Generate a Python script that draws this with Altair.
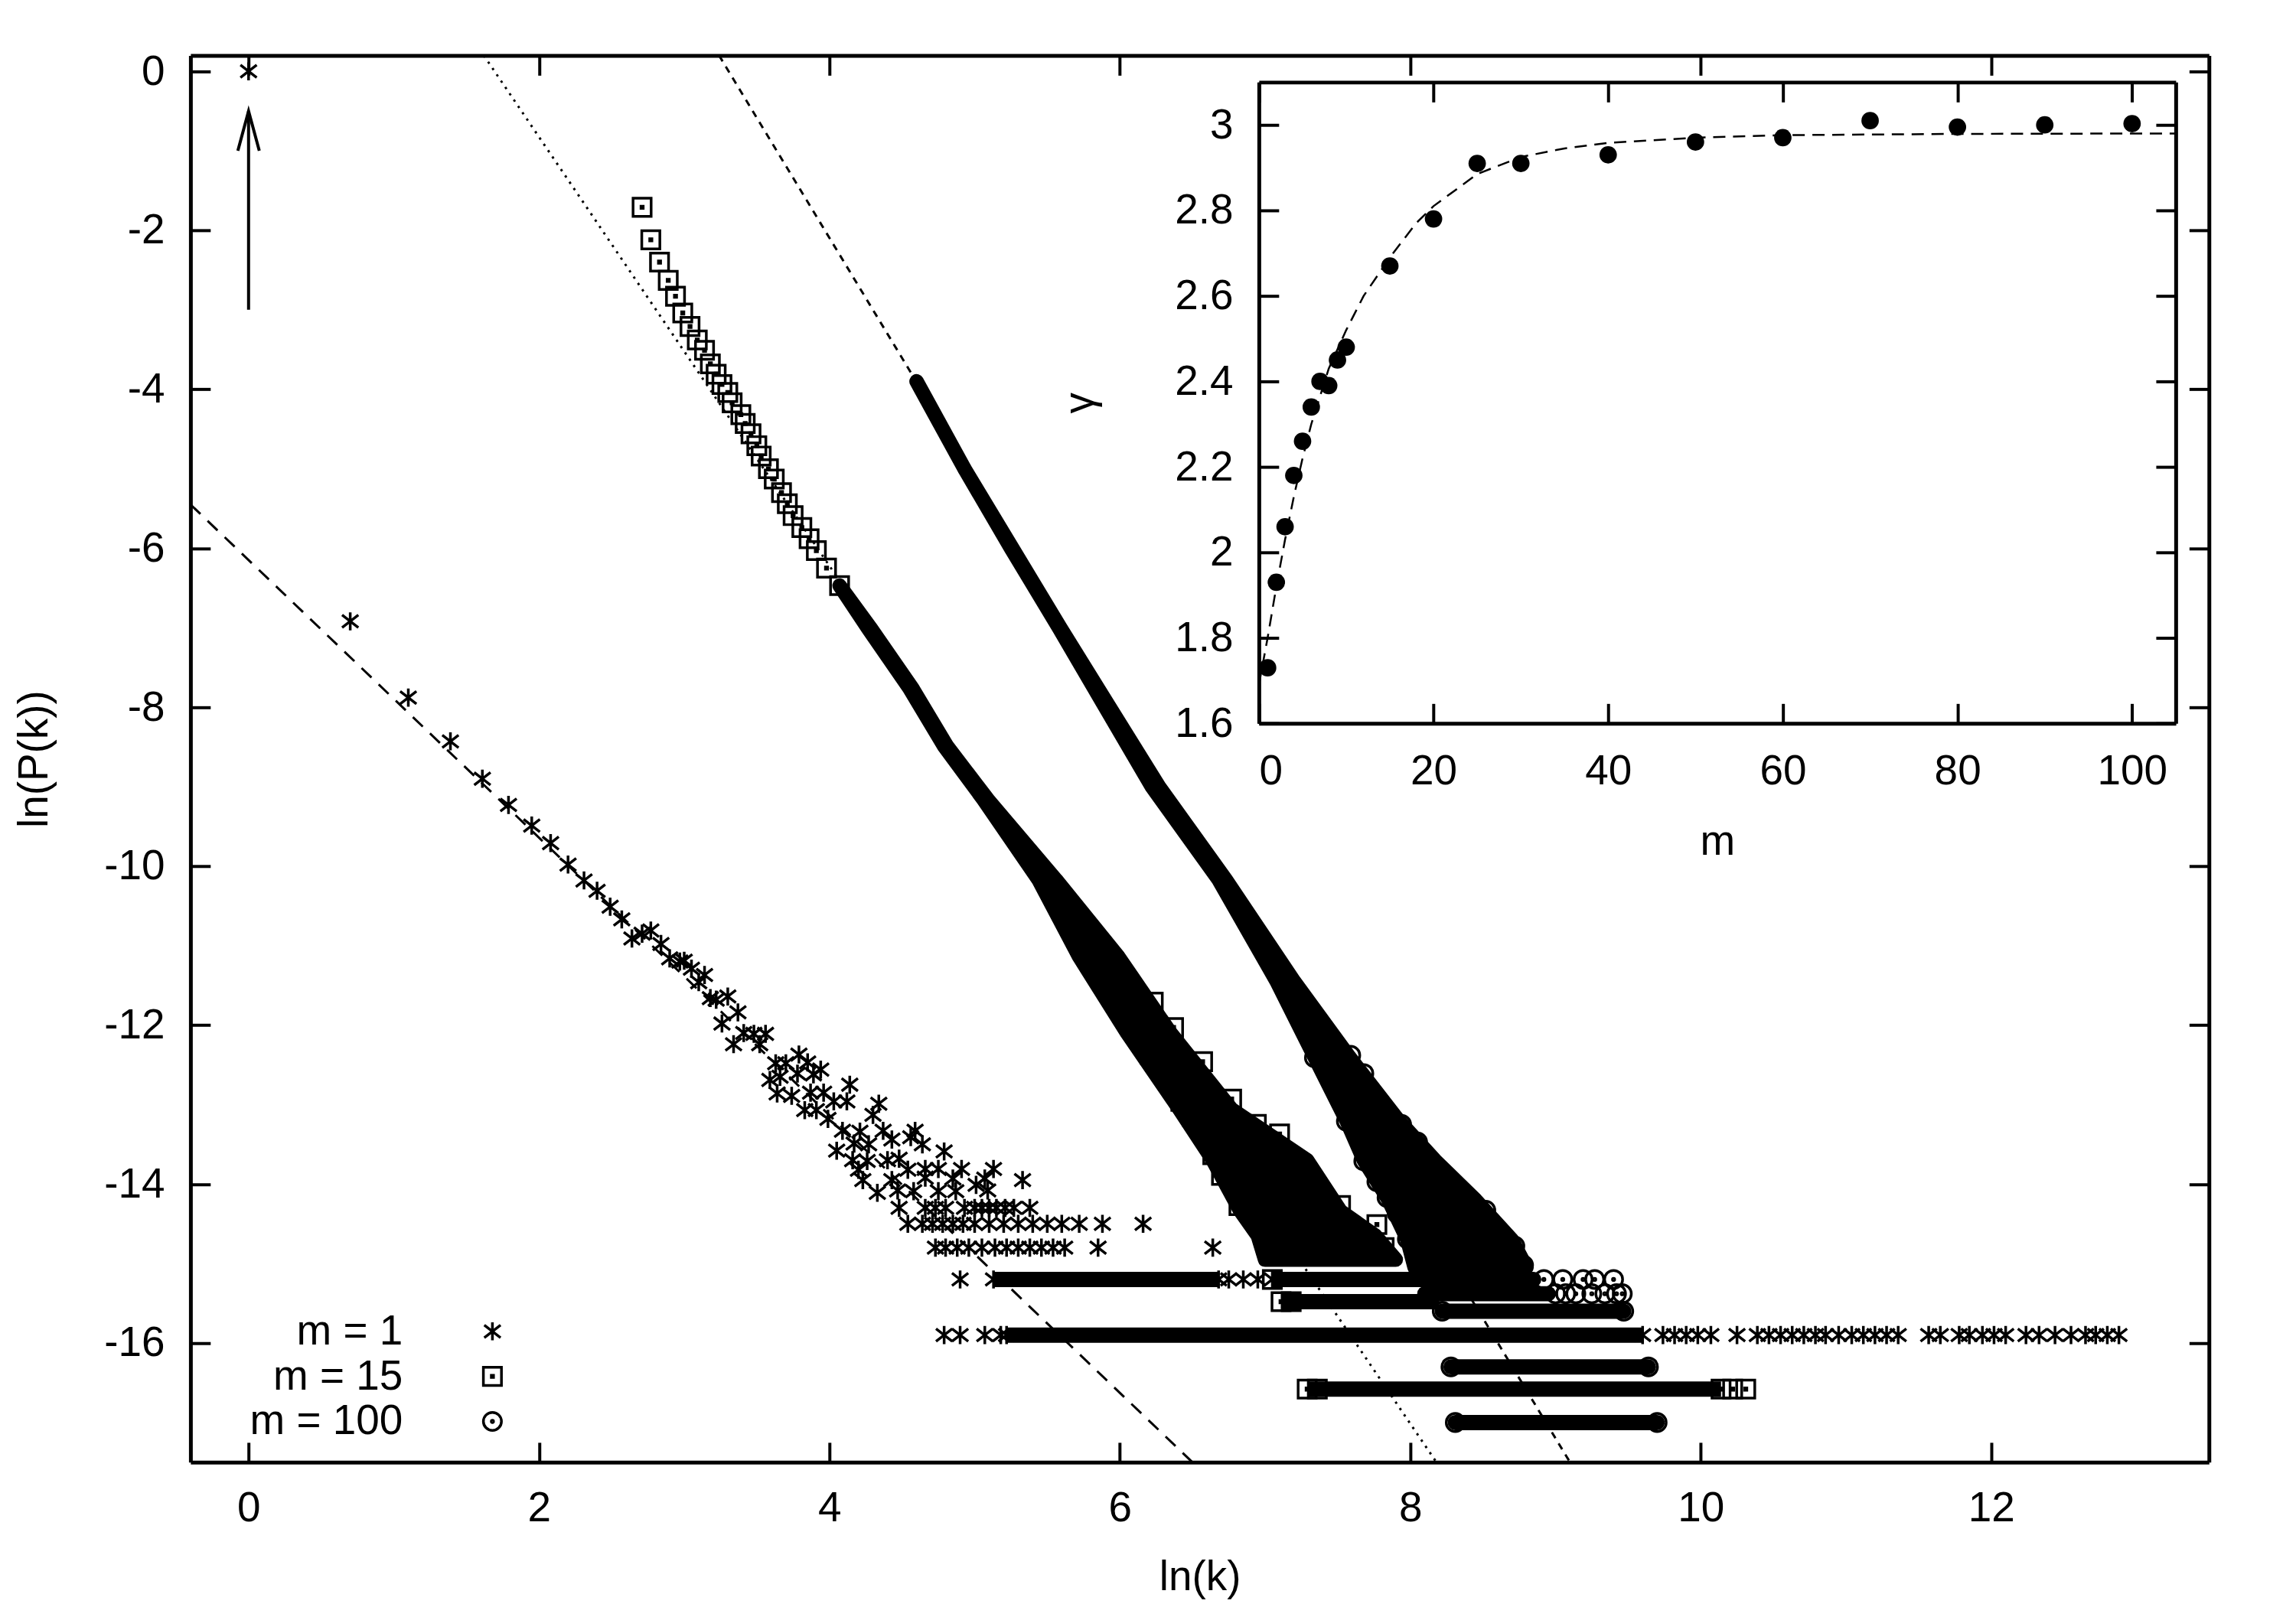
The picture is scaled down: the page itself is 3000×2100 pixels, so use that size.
import altair as alt
import pandas as pd

FONT = "Liberation Sans"
FS = 55

# ---------------- main panel : ln P(k) versus ln k ----------------
SERIES = ["m = 1", "m = 15", "m = 100"]

# m = 1 : scattered asterisks
m1_x = [0.00, 0.70, 1.10, 1.39, 1.61, 1.79, 1.95, 2.08, 2.20, 2.31, 2.40, 2.49, 2.57, 2.64,
        2.71, 2.77, 2.84, 2.90, 2.97, 3.00, 3.05, 3.10, 3.14, 3.18, 3.22, 3.30, 3.37, 3.26,
        3.41, 3.48, 3.56, 3.34, 3.52, 3.63, 3.70, 3.79, 3.85, 3.94, 3.59, 3.66, 3.78, 3.89,
        4.14, 3.64, 3.74, 3.87, 3.96, 4.03, 4.12, 3.83, 3.91, 3.99, 4.34, 4.30, 4.09, 4.21,
        4.37, 4.59, 4.05, 4.17, 4.27, 4.43, 4.56, 4.64, 4.79, 4.16, 4.26, 4.40, 4.48, 4.20,
        4.54, 4.66, 4.75, 4.91, 5.13, 4.23, 4.43, 4.66, 4.85, 5.07, 5.33, 4.33, 4.47, 4.58,
        4.75, 4.87, 5.01, 5.09]
m1_y = [0.00, -6.92, -7.88, -8.43, -8.90, -9.23, -9.49, -9.71, -9.98, -10.18, -10.31, -10.51,
        -10.67, -10.91, -10.85, -10.81, -10.98, -11.16, -11.20, -11.19, -11.29, -11.46, -11.37,
        -11.66, -11.68, -11.64, -11.84, -11.98, -12.10, -12.11, -12.11, -12.24, -12.24, -12.48,
        -12.48, -12.37, -12.47, -12.56, -12.69, -12.65, -12.61, -12.62, -12.75, -12.86, -12.89,
        -12.85, -12.85, -12.96, -12.96, -13.07, -13.07, -13.18, -12.99, -13.13, -13.33, -13.34,
        -13.33, -13.33, -13.58, -13.49, -13.50, -13.44, -13.41, -13.50, -13.59, -13.70, -13.71,
        -13.70, -13.68, -13.82, -13.82, -13.81, -13.81, -13.81, -13.81, -13.95, -13.95, -13.92,
        -13.93, -13.93, -13.95, -14.11, -14.08, -14.09, -14.09, -14.09, -14.01, -14.08]
# m = 1 : asterisks lying on the flat levels of ln P(k)
m1_level_y = [-14.3, -14.5, -14.8, -15.2, -15.9]
m1_level_x = [
    [4.48, 4.66, 4.73, 4.80, 4.93, 5.00, 5.05, 5.10, 5.15, 5.21, 5.27, 5.38],
    [4.54, 4.64, 4.71, 4.78, 4.85, 4.92, 5.00, 5.10, 5.20, 5.30, 5.40, 5.50, 5.60, 5.72,
     5.88, 6.16],
    [4.73, 4.80, 4.88, 4.96, 5.05, 5.14, 5.22, 5.30, 5.38, 5.46, 5.54, 5.62, 5.85, 6.64],
    [4.90, 5.13, 6.68, 6.75, 6.85, 6.95, 7.05],
    [4.79, 4.90, 5.07, 5.18, 5.22, 9.60, 9.74, 9.82, 9.90, 9.98, 10.07, 10.25, 10.39, 10.47,
     10.55, 10.63, 10.71, 10.79, 10.86, 10.95, 11.04, 11.12, 11.20, 11.28, 11.36, 11.57,
     11.65, 11.78, 11.85, 11.94, 12.02, 12.10, 12.24, 12.33, 12.44, 12.55, 12.65, 12.72,
     12.80, 12.88],
]

# m = 15 : squares (separate ones at small k, then stragglers in the tail)
m15_x = [2.71, 2.77, 2.83, 2.89, 2.94, 2.99, 3.04, 3.09, 3.14, 3.18, 3.22, 3.26, 3.30, 3.33,
         3.39, 3.42, 3.46, 3.50, 3.53, 3.58, 3.62, 3.67, 3.71, 3.75, 3.81, 3.86, 3.91, 3.98,
         4.07,
         6.13, 6.21, 6.42, 6.50, 6.64, 6.70, 6.82, 6.23, 6.37, 6.57, 6.77, 6.94, 7.10, 7.29,
         7.52, 7.77, 7.82, 7.60, 7.70,
         7.29, 7.36, 10.14, 10.22, 10.31, 7.11, 7.18, 7.05]
m15_y = [-1.71, -2.12, -2.40, -2.63, -2.83, -3.04, -3.21, -3.38, -3.51, -3.68, -3.81, -3.94,
         -4.04, -4.17, -4.32, -4.43, -4.56, -4.71, -4.84, -5.00, -5.13, -5.30, -5.44, -5.59,
         -5.74, -5.88, -6.03, -6.25, -6.47,
         -12.15, -12.37, -12.96, -13.15, -13.63, -13.89, -14.27, -11.71, -12.03, -12.46,
         -12.93, -13.25, -13.37, -13.89, -14.27, -14.51, -14.80, -14.81, -14.81,
         -16.58, -16.58, -16.58, -16.58, -16.58, -15.48, -15.48, -15.20]

# m = 100 : circles
m100_x = [7.34, 7.56, 7.68, 7.77, 7.84, 7.91, 7.98, 7.59, 7.68, 7.94, 8.05, 8.17, 8.52, 8.72,
          8.63, 8.78,
          8.31, 9.70, 8.28, 9.64, 8.22, 9.47,
          9.00, 9.07, 9.14, 9.25, 9.34, 9.42, 9.46, 8.92, 9.05, 9.19, 9.27, 9.40]
m100_y = [-12.41, -13.21, -13.71, -13.97, -14.17, -14.37, -14.69, -12.38, -12.61, -13.25,
          -13.47, -13.79, -14.33, -14.78, -14.67, -15.02,
          -17.0, -17.0, -16.3, -16.3, -15.6, -15.6,
          -15.38, -15.38, -15.38, -15.38, -15.38, -15.38, -15.38, -15.2, -15.2, -15.2, -15.2,
          -15.2]

# flat levels where markers merge into solid runs (start, end)
m1_run_y = [-15.9, -15.2]
m1_run_x0 = [5.22, 5.13]
m1_run_x1 = [9.60, 6.68]
m15_run_y = [-16.58, -15.48, -15.2]
m15_run_x0 = [7.29, 7.11, 7.05]
m15_run_x1 = [10.14, 8.20, 8.15]
m100_run_y = [-17.0, -16.3, -15.6, -15.38, -15.2]
m100_run_x0 = [8.31, 8.28, 8.22, 8.10, 8.10]
m100_run_x1 = [9.70, 9.64, 9.47, 8.95, 8.85]

# dense diagonal bands of merged markers: left / right marker centres per level
m15_band_y = [-14.95, -14.65, -14.34, -13.7, -13.06, -12.1, -11.14, -10.17, -9.16, -8.49,
              -7.76, -7.02, -6.47]
m15_band_l = [7.00, 6.95, 6.83, 6.64, 6.41, 6.05, 5.72, 5.44, 5.06, 4.79, 4.55, 4.27, 4.07]
m15_band_r = [7.90, 7.76, 7.52, 7.29, 6.77, 6.35, 5.99, 5.56, 5.09, 4.81, 4.57, 4.29, 4.07]
m100_band_y = [-15.05, -14.7, -14.2, -13.7, -13.2, -12.4, -11.45, -10.17, -9.0, -8.0, -7.0,
               -6.0, -5.0, -3.9]
m100_band_l = [8.03, 7.98, 7.85, 7.68, 7.56, 7.34, 7.08, 6.68, 6.22, 5.90, 5.58, 5.25, 4.93, 4.60]
m100_band_r = [8.80, 8.70, 8.45, 8.17, 7.92, 7.58, 7.20, 6.73, 6.27, 5.93, 5.59, 5.26, 4.93, 4.60]

# fitted power laws (straight lines on log-log axes)
fit1_x, fit1_y = [-0.4, 6.50], [-5.45, -17.5]
fit15_x, fit15_y = [1.62, 8.18], [0.2, -17.5]
fit100_x, fit100_y = [3.24, 9.10], [0.2, -17.5]

# arrow pointing at the k = 1 point
arrow_x, arrow_y = [0.0, 0.0], [-3.0, -0.5]

x_ticks = [0, 2, 4, 6, 8, 10, 12]
y_ticks = [0, -2, -4, -6, -8, -10, -12, -14, -16]

# ---------------- inset : gamma versus m ----------------
inset_m = [1, 2, 3, 4, 5, 6, 7, 8, 9, 10, 15, 20, 25, 30, 40, 50, 60, 70, 80, 90, 100]
inset_g = [1.73, 1.93, 2.06, 2.18, 2.26, 2.34, 2.40, 2.39, 2.45, 2.48, 2.67, 2.78, 2.91, 2.91,
           2.93, 2.96, 2.97, 3.01, 2.995, 3.00, 3.003]
curve_m = [0, 1, 2, 3, 4, 5, 6, 8, 10, 12, 15, 18, 20, 25, 30, 35, 40, 50, 60, 80, 105]
curve_g = [1.69, 1.80, 1.92, 2.03, 2.13, 2.22, 2.30, 2.43, 2.52, 2.60, 2.69, 2.77, 2.81, 2.885,
           2.925, 2.945, 2.958, 2.970, 2.976, 2.979, 2.980]
inset_x_ticks = [0, 20, 40, 60, 80, 100]
inset_y_ticks = [1.6, 1.8, 2.0, 2.2, 2.4, 2.6, 2.8, 3.0]

# ---------------- geometry ----------------
W, H = 2644, 1843
IN_L, IN_R, IN_T, IN_B = 1399.5, 2600.5, 35, 875

STAR = "M0,-1L0,1M-0.9,-0.7L0.9,0.7M-0.9,0.7L0.9,-0.7"
SQUARE = "M-1,-1L1,-1L1,1L-1,1Z M-0.12,-0.12L0.12,-0.12L0.12,0.12L-0.12,0.12Z"
CIRCLE = ("M-1,0A1,1,0,1,1,1,0A1,1,0,1,1,-1,0Z "
          "M-0.12,0A0.12,0.12,0,1,1,0.12,0A0.12,0.12,0,1,1,-0.12,0Z")

XS = alt.Scale(domain=[-0.4, 13.5], nice=False, zero=False)
YS = alt.Scale(domain=[-17.5, 0.2], nice=False, zero=False)
IXS = alt.Scale(domain=[0, 105], range=[IN_L, IN_R], nice=False, zero=False)
IYS = alt.Scale(domain=[1.6, 3.1], range=[IN_B, IN_T], nice=False, zero=False)
TICK = {"expr": "-26"}
LBL = "'' + datum.value"

# ---------------- data frames ----------------
pts = []
for x, y in zip(m1_x, m1_y):
    pts.append({"x": x, "y": y, "series": SERIES[0]})
for y, xs in zip(m1_level_y, m1_level_x):
    for x in xs:
        pts.append({"x": x, "y": y, "series": SERIES[0]})
for x, y in zip(m15_x, m15_y):
    pts.append({"x": x, "y": y, "series": SERIES[1]})
for x, y in zip(m100_x, m100_y):
    pts.append({"x": x, "y": y, "series": SERIES[2]})
pts_df = pd.DataFrame(pts)


def runs(ys, x0, x1):
    return pd.DataFrame({"y": ys, "x0": x0, "x1": x1})


def band(ys, l, r):
    return pd.DataFrame({"y": ys, "l": l, "r": r})


def line_df(xs, ys):
    return pd.DataFrame({"x": xs, "y": ys})


def X(field, scale=XS, axis=None):
    return alt.X(field, type="quantitative", scale=scale, axis=axis)


def Y(field, scale=YS, axis=None):
    return alt.Y(field, type="quantitative", scale=scale, axis=axis)


# ---------------- layers ----------------
fit1 = alt.Chart(line_df(fit1_x, fit1_y)).mark_line(
    color="black", strokeWidth=3, strokeDash=[18, 13]).encode(
    x=X("x", axis=alt.Axis(orient="top", values=x_ticks, labels=False, title=None)),
    y=Y("y", axis=alt.Axis(orient="right", values=y_ticks, labels=False, title=None)))
fit15 = alt.Chart(line_df(fit15_x, fit15_y)).mark_line(
    color="black", strokeWidth=3, strokeDash=[3, 7]).encode(x=X("x"), y=Y("y"))
fit100 = alt.Chart(line_df(fit100_x, fit100_y)).mark_line(
    color="black", strokeWidth=3, strokeDash=[9, 8]).encode(x=X("x"), y=Y("y"))

arrow_body = alt.Chart(line_df(arrow_x, arrow_y)).mark_line(
    color="black", strokeWidth=4).encode(x=X("x"), y=Y("y"))
arrow_head = alt.Chart(line_df(arrow_x[1:], arrow_y[1:])).mark_point(
    shape="M-0.27,1L0,0L0.27,1", size=10816, filled=False, color="black",
    strokeWidth=4, opacity=1).encode(x=X("x"), y=Y("y"))

band_kw = dict(orient="horizontal", color="black", stroke="black", strokeWidth=19,
               strokeJoin="round", opacity=1)
band15 = alt.Chart(band(m15_band_y, m15_band_l, m15_band_r)).mark_area(**band_kw).encode(
    y=Y("y"), x=X("l"), x2="r")
band100 = alt.Chart(band(m100_band_y, m100_band_l, m100_band_r)).mark_area(**band_kw).encode(
    y=Y("y"), x=X("l"), x2="r")

run1 = alt.Chart(runs(m1_run_y, m1_run_x0, m1_run_x1)).mark_rule(
    color="black", strokeWidth=20, strokeCap="butt").encode(x=X("x0"), x2="x1", y=Y("y"))
run15 = alt.Chart(runs(m15_run_y, m15_run_x0, m15_run_x1)).mark_rule(
    color="black", strokeWidth=20, strokeCap="butt").encode(x=X("x0"), x2="x1", y=Y("y"))
run100 = alt.Chart(runs(m100_run_y, m100_run_x0, m100_run_x1)).mark_rule(
    color="black", strokeWidth=20, strokeCap="round").encode(x=X("x0"), x2="x1", y=Y("y"))

points = alt.Chart(pts_df).mark_point(filled=False, size=560, strokeWidth=3.5, opacity=1).encode(
    x=X("x", axis=alt.Axis(orient="bottom", values=x_ticks, labelExpr=LBL, title="ln(k)",
                           labelPadding=60, titlePadding=36)),
    y=Y("y", axis=alt.Axis(orient="left", values=y_ticks, labelExpr=LBL, title="ln(P(k))",
                           labelPadding=60, titlePadding=62)),
    shape=alt.Shape("series:N", scale=alt.Scale(domain=SERIES, range=[STAR, SQUARE, CIRCLE]),
                    legend=alt.Legend(orient="none", legendX=368, legendY=1644, title=None,
                                      labelFont=FONT, labelFontSize=FS, labelColor="black",
                                      labelAlign="right", labelOffset={"expr": "-145"},
                                      labelLimit=600,
                                      symbolSize=560, symbolStrokeWidth=3.5,
                                      symbolStrokeColor="black", symbolFillColor="transparent",
                                      rowPadding=3, padding=0)),
    color=alt.value("black"))

inset_curve = alt.Chart(pd.DataFrame({"m": curve_m, "g": curve_g})).mark_line(
    color="black", strokeWidth=2.5, strokeDash=[16, 10]).encode(
    x=X("m", IXS, alt.Axis(orient="top", offset=-IN_T, values=inset_x_ticks, labels=False,
                           title=None)),
    y=Y("g", IYS, alt.Axis(orient="right", offset=IN_R - W, values=inset_y_ticks,
                           labels=False, title=None)))
inset_pts = alt.Chart(pd.DataFrame({"m": inset_m, "g": inset_g})).mark_circle(
    size=520, color="black", opacity=1).encode(
    x=X("m", IXS, alt.Axis(orient="bottom", offset=IN_B - H, values=inset_x_ticks,
                           labelExpr=LBL, title="m", labelPadding=62, titlePadding=39)),
    y=Y("g", IYS, alt.Axis(orient="left", offset=-IN_L, values=inset_y_ticks,
                           labelExpr=LBL, title="γ", labelPadding=60, titlePadding=95)))

chart = alt.layer(
    fit1, fit15, fit100, arrow_body, arrow_head, band15, band100, run1, run15, run100,
    points, inset_curve, inset_pts
).resolve_scale(
    x="independent", y="independent"
).resolve_axis(
    x="independent", y="independent"
).properties(
    width=W, height=H,
    padding={"left": 241.5, "top": 62, "right": 106, "bottom": 180},
    autosize=alt.AutoSizeParams(type="none"),
    background="white",
).configure_view(
    stroke=None
).configure_axis(
    domainColor="black", domainWidth=5, tickColor="black", tickWidth=4, tickSize=TICK,
    labelFont=FONT, labelFontSize=FS, labelColor="black", titleFont=FONT, titleFontSize=FS,
    titleFontWeight="normal", titleColor="black", grid=False
)

chart.save("out.html", embed_options={"renderer": "svg", "actions": False})
